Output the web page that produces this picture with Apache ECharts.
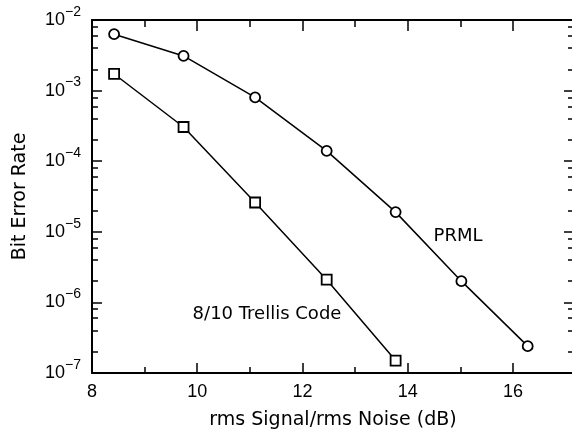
<!doctype html>
<html lang="en">
<head>
<meta charset="utf-8" />
<title>Bit Error Rate vs SNR</title>
<script src="https://cdn.jsdelivr.net/npm/echarts@6.0.0/dist/echarts.min.js"></script>
<style>
  html, body { margin: 0; padding: 0; background: #fff; }
  #chart { width: 572px; height: 433px; }
</style>
</head>
<body>
<div id="chart"></div>
<script>
// data
const snr = [8.42, 9.74, 11.1, 12.46, 13.77, 15.02, 16.28];
const berPRML = [6.3e-3, 3.1e-3, 8.0e-4, 1.4e-4, 1.9e-5, 2.0e-6, 2.4e-7];
const berTrellis = [1.72e-3, 3.05e-4, 2.6e-5, 2.1e-6, 1.5e-7];
const xMajorTicks = [8, 10, 12, 14, 16];
const xMinorTicks = [9, 11, 13, 15];
const yMinorMantissas = [2, 4, 6, 8];
const yDecadeExps = [-7, -6, -5, -4, -3];

const font = '"Liberation Sans", Arial, sans-serif';
const titleFont = '"DejaVu Sans", sans-serif';

// minor ticks of the log axis, placed on a linear axis holding log10 values
const yMinorTicks = [];
yDecadeExps.forEach(e => yMinorMantissas.forEach(m => yMinorTicks.push(Math.log10(m) + e)));

const xMin = 8, xMax = 17.16;

function xAxisCfg(pos, ticks, len, withLine, withLabel) {
  return {
    type: 'value', position: pos, min: xMin, max: xMax,
    axisLine: { show: withLine, onZero: false, lineStyle: { color: '#000', width: 2 } },
    axisTick: { show: true, inside: true, length: len, customValues: ticks, lineStyle: { color: '#000', width: 1.5 } },
    axisLabel: { show: withLabel, customValues: ticks, color: '#000', fontSize: 18, fontFamily: font, margin: 10 },
    splitLine: { show: false }
  };
}

function yLogCfg(pos, withLabel) {
  return {
    type: 'log', logBase: 10, position: pos, min: 1e-7, max: 1e-2,
    axisLine: { show: pos === 'left', onZero: false, lineStyle: { color: '#000', width: 2 } },
    axisTick: { show: true, inside: true, length: 10, lineStyle: { color: '#000', width: 1.5 } },
    axisLabel: {
      show: withLabel, margin: 11,
      formatter: v => '{b|10}{s|\u2212' + Math.abs(Math.round(Math.log10(v))) + '}',
      rich: {
        b: { fontSize: 18, fontFamily: font, color: '#000' },
        s: { fontSize: 14, fontFamily: font, color: '#000', padding: [0, 0, 16, 0] }
      }
    },
    splitLine: { show: false }
  };
}

function yMinorCfg(pos) {
  return {
    type: 'value', position: pos, min: -7, max: -2,
    axisLine: { show: false },
    axisTick: { show: true, inside: true, length: 6, customValues: yMinorTicks, lineStyle: { color: '#000', width: 1.5 } },
    axisLabel: { show: false },
    splitLine: { show: false }
  };
}

const chart = echarts.init(document.getElementById('chart'), null, { renderer: 'canvas' });
chart.setOption({
  backgroundColor: '#fff',
  animation: false,
  grid: { left: 92, right: -2, top: 20, bottom: 60, containLabel: false, outerBoundsMode: 'none' },
  xAxis: [
    Object.assign(xAxisCfg('bottom', xMajorTicks, 10, true, true), {
      name: 'rms Signal/rms Noise (dB)', nameLocation: 'middle', nameGap: 38,
      nameTextStyle: { fontSize: 19, fontFamily: titleFont, color: '#000' }
    }),
    xAxisCfg('bottom', xMinorTicks, 6, false, false),
    xAxisCfg('top', xMajorTicks, 11, true, false),
    xAxisCfg('top', xMinorTicks, 7, false, false)
  ],
  yAxis: [
    Object.assign(yLogCfg('left', true), {
      name: 'Bit Error Rate', nameLocation: 'middle', nameGap: 62,
      nameTextStyle: { fontSize: 19, fontFamily: titleFont, color: '#000' }
    }),
    yMinorCfg('left'),
    yLogCfg('right', false),
    yMinorCfg('right')
  ],
  graphic: [
    { type: 'text', x: 458, y: 236, style: { text: 'PRML', font: '18px ' + titleFont, fill: '#000', align: 'center', verticalAlign: 'middle' } },
    { type: 'text', x: 267, y: 314, style: { text: '8/10 Trellis Code', font: '18px ' + titleFont, fill: '#000', align: 'center', verticalAlign: 'middle' } }
  ],
  series: [
    {
      name: 'PRML', type: 'line', xAxisIndex: 0, yAxisIndex: 0,
      data: snr.map((x, i) => [x, berPRML[i]]),
      symbol: 'circle', symbolSize: 10,
      lineStyle: { color: '#000', width: 1.5 },
      itemStyle: { color: '#fff', borderColor: '#000', borderWidth: 1.8 }
    },
    {
      name: '8/10 Trellis Code', type: 'line', xAxisIndex: 0, yAxisIndex: 0,
      data: berTrellis.map((y, i) => [snr[i], y]),
      symbol: 'rect', symbolSize: 10,
      lineStyle: { color: '#000', width: 1.5 },
      itemStyle: { color: '#fff', borderColor: '#000', borderWidth: 1.8 }
    }
  ]
});
</script>
</body>
</html>
